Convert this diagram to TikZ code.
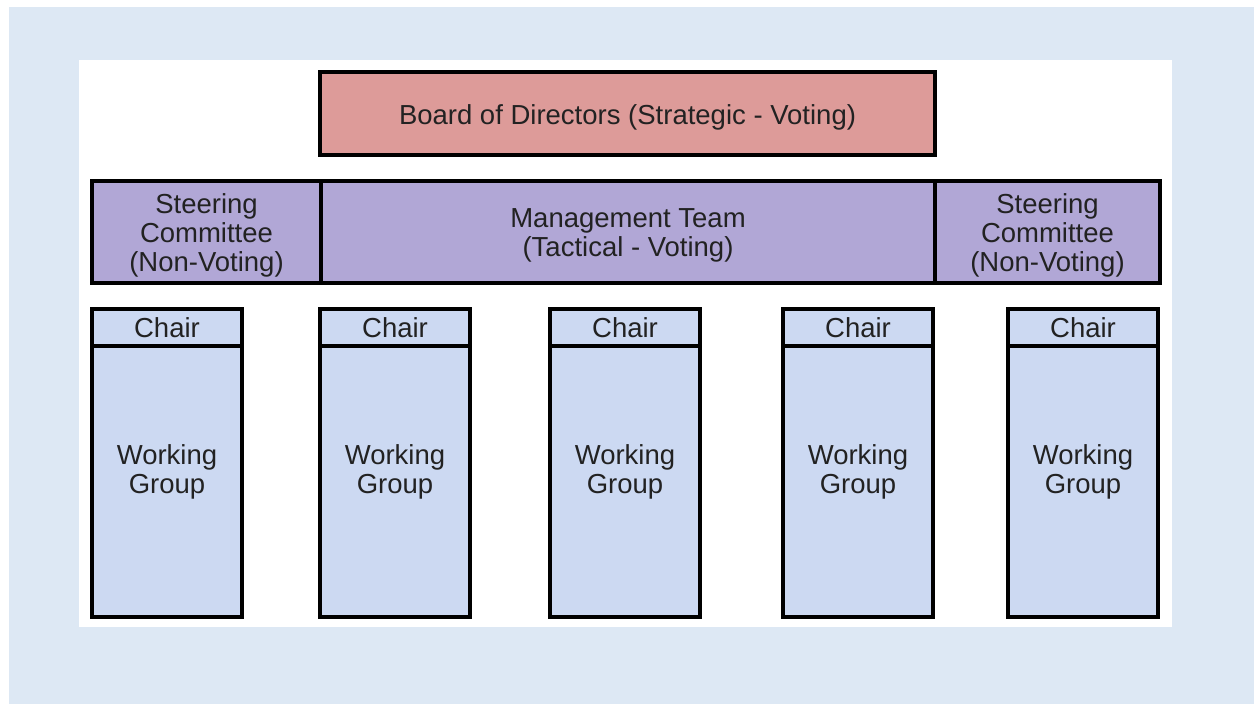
\documentclass[tikz,border=0pt]{standalone}
\usepackage{fontspec}
\setmainfont{Liberation Sans}
\definecolor{panelblue}{HTML}{DDE8F4}
\definecolor{boardred}{HTML}{DD9B99}
\definecolor{teampurple}{HTML}{B1A7D6}
\definecolor{groupblue}{HTML}{CCD9F2}
\definecolor{inkdark}{HTML}{222222}
\begin{document}
\begin{tikzpicture}[x=1pt,y=-1pt,
  txt/.style={text=inkdark, font=\fontsize{27.5}{29}\selectfont, align=center, inner sep=0pt},
  box/.style={draw=black, line width=3.4pt, rectangle, inner sep=0pt, outer sep=0pt},
  boardbox/.style={box, fill=boardred},
  teambox/.style={box, fill=teampurple},
  chairbox/.style={box, txt, fill=groupblue, minimum width=150pt, minimum height=37pt},
  groupbox/.style={box, fill=groupblue, minimum width=150pt, minimum height=271pt},
  caption/.style={label={[txt, yshift=-3.5pt]center:{#1}}}
]
\useasboundingbox (0,0) rectangle (1254,704);
% page backdrop
\fill[white] (0,0) rectangle (1254,704);
\fill[panelblue] (9,7) rectangle (1254,704);
\fill[white] (79,60) rectangle (1172,627);

% top level
\node[boardbox, minimum width=615pt, minimum height=83pt,
  caption={Board of Directors (Strategic - Voting)}] (board) at (627.5,113.5) {};

% middle row
\node[teambox, minimum width=229pt, minimum height=102pt,
  caption={Steering\\Committee\\(Non-Voting)}] (steerL) at (206.5,232) {};
\node[teambox, minimum width=614pt, minimum height=102pt,
  caption={Management Team\\(Tactical - Voting)}] (mgmt) at (628,232) {};
\node[teambox, minimum width=225pt, minimum height=102pt,
  caption={Steering\\Committee\\(Non-Voting)}] (steerR) at (1047.5,232) {};

% working groups
\foreach \i/\cx in {1/167, 2/395, 3/625, 4/858, 5/1083} {
  \node[groupbox] (wg\i) at (\cx,481.5) {};
  \node[chairbox] (chair\i) at (\cx,327.5) {Chair};
  \node[txt] (wgtext\i) at (\cx,472) {Working\\Group};
}
\end{tikzpicture}
\end{document}
